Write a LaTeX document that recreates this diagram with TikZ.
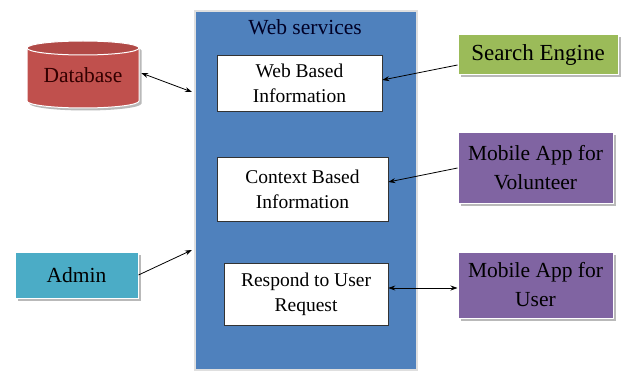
\documentclass[tikz,border=0pt]{standalone}
\usepackage{fontspec}
\setmainfont{Liberation Serif}
\newfontfamily\tnr{Liberation Serif}
\usetikzlibrary{shadows,arrows.meta}
\definecolor{wsblue}{HTML}{4F81BD}
\definecolor{dbred}{HTML}{C0504D}
\definecolor{segreen}{HTML}{9BBB59}
\definecolor{appurple}{HTML}{8064A2}
\definecolor{adteal}{HTML}{4BACC6}
\tikzset{
  shad/.style={drop shadow={shadow xshift=2.5pt,shadow yshift=-2.5pt,fill=gray!55,opacity=1}},
  inbox/.style={draw=black!80,line width=0.6pt,fill=white,align=center,inner sep=0pt,
     font=\tnr\fontsize{19.5}{25}\selectfont},
  outbox/.style={shad,draw=white,line width=1pt,align=center,inner sep=0pt,
     font=\tnr\fontsize{21.5}{29}\selectfont},
  arr/.style={line width=0.8pt,-{Stealth[length=7pt,width=5pt]}},
  darr/.style={line width=0.8pt,{Stealth[length=7pt,width=5pt]}-{Stealth[length=7pt,width=5pt]}}
}
\begin{document}
\begin{tikzpicture}[x=1pt,y=-1pt]
\useasboundingbox (0,0) rectangle (626,374);
\node[draw=gray!25,line width=1.5pt,fill=wsblue,minimum width=222pt,minimum height=359pt,inner sep=0pt] (ws) at (306,190.5) {};
\node[font=\tnr\fontsize{21.5}{26}\selectfont,text=black!85!blue] (wst) at (305,27) {Web services};
\node[inbox,minimum width=165pt,minimum height=56pt] (wbi) at (299.5,83) {Web Based\\Information};
\node[inbox,minimum width=171pt,minimum height=64pt] (cbi) at (302.5,189) {Context Based\\Information};
\node[inbox,minimum width=164pt,minimum height=62pt] (resp) at (306,294) {Respond to User\\Request};
% database cylinder
\fill[gray!55,shift={(2.5,2.5)}] (27,48) -- (27,101) arc[start angle=180,end angle=0,x radius=56,y radius=7]
   -- (139,48) arc[start angle=0,end angle=-180,x radius=56,y radius=7] -- cycle;
\filldraw[fill=dbred,draw=white,line width=1pt] (27,48) -- (27,101) arc[start angle=180,end angle=0,x radius=56,y radius=7]
   -- (139,48) arc[start angle=0,end angle=-180,x radius=56,y radius=7] -- cycle;
\filldraw[fill=dbred!92!black,draw=white,line width=1pt] (83,48) ellipse[x radius=56,y radius=7];
\node[font=\tnr\fontsize{21.5}{26}\selectfont,text=black!80!red,minimum width=112pt,minimum height=60pt,inner sep=0pt] (db) at (83,75) {Database};
\node[outbox,fill=segreen,minimum width=160pt,minimum height=40pt,font=\tnr\fontsize{23}{28}\selectfont] (se) at (538,55) {Search Engine};
\node[outbox,fill=appurple,minimum width=155pt,minimum height=70pt] (vol) at (535.5,168) {Mobile App for\\Volunteer};
\node[outbox,fill=appurple,minimum width=155pt,minimum height=66pt] (user) at (535.5,285) {Mobile App for\\User};
\node[outbox,fill=adteal,minimum width=123pt,minimum height=46pt] (admin) at (76.5,275) {Admin};
\coordinate (wsdb) at (192,92);
\coordinate (wsad) at (192,250);
\draw[darr] ([xshift=2pt,yshift=2pt]db.east) -- (wsdb);
\draw[arr] (admin.east) -- (wsad);
\draw[arr] ([yshift=-10pt]se.west) -- ([yshift=3pt]wbi.east);
\draw[arr] (vol.west) -- ([yshift=7pt]cbi.east);
\draw[darr] ([yshift=6pt]resp.east) -- ([yshift=-3pt]user.west);
\end{tikzpicture}
\end{document}
